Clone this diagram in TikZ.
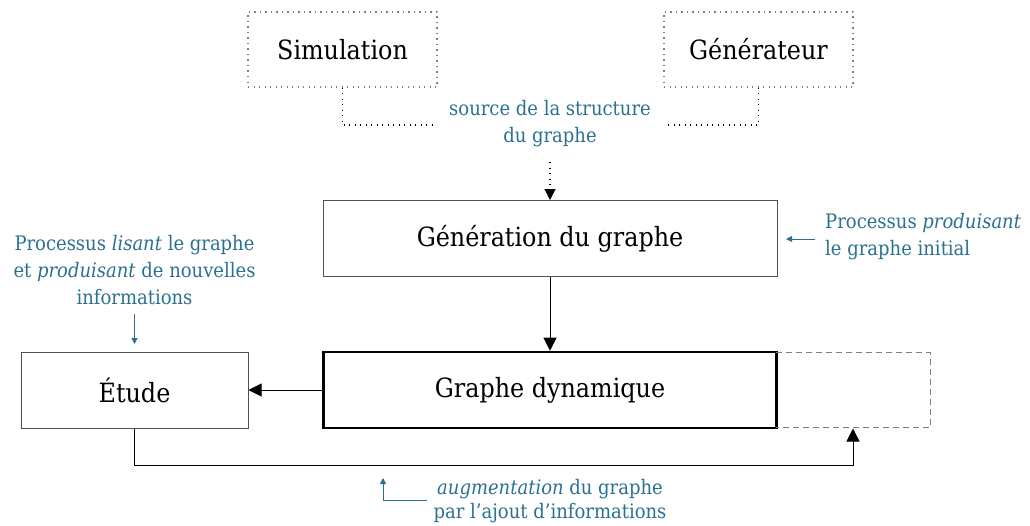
\documentclass[tikz,border=0pt]{standalone}
\usepackage{fontspec}
\setmainfont{DejaVu Serif Condensed}
\usetikzlibrary{arrows.meta}
\definecolor{lblue}{RGB}{42,112,143}
\definecolor{boxgray}{RGB}{80,80,80}
\tikzset{
  mainbox/.style={draw=boxgray, line width=1pt, minimum width=#1, minimum height=76pt, inner sep=0pt, font=\fontsize{26.5}{30}\selectfont},
  srcbox/.style={draw=gray, line width=1.1pt, dash pattern=on 1.1pt off 4.4pt, minimum width=189pt, minimum height=75pt, inner sep=0pt, font=\fontsize{26.5}{30}\selectfont},
  dotline/.style={line width=1.1pt, dash pattern=on 1.1pt off 4.4pt, draw=black},
  conn/.style={line width=1pt, -{Triangle[width=13pt,length=13pt]}},
  note/.style={text=lblue, font=\fontsize{20}{27}\selectfont, align=center, inner sep=0pt},
  notearrow/.style={draw=lblue, line width=1pt, -{Triangle[width=6pt,length=6pt]}},
}
\begin{document}
\begin{tikzpicture}[x=1pt,y=-1pt]
\useasboundingbox (0,0) rectangle (1030,525);
% source boxes
\node[srcbox] (sim) at (342.5,49.5) {Simulation};
\node[srcbox] (gen) at (758.5,49.5) {Générateur};
% label
\node[note] (src) at (550,124) {source de la structure\\du graphe};
\coordinate (srcL) at (434,125);
\coordinate (srcR) at (667,125);
\draw[dotline] (sim.south) |- (srcL);
\draw[dotline] (gen.south) |- (srcR);
% main boxes
\node[mainbox=454pt] (gg) at (550,238.5) {Génération du graphe};
\node[mainbox=453pt, line width=2.6pt, draw=black] (gd) at (550,390) {Graphe dynamique};
\node[mainbox=227pt] (et) at (134.5,390) {Étude};
\coordinate (srcA) at (550,162);
\draw[dotline, -{Triangle[width=11pt,length=11pt]}] (srcA) -- (gg.north);
\draw[conn] (gg.south) -- (gd.north);
\draw[conn] (gd.west) -- (et.east);
% dashed extension box
\coordinate (dA) at (776,352.5);
\coordinate (dB) at (930,352.5);
\coordinate (dC) at (930,427.5);
\coordinate (dD) at (776,427.5);
\draw[gray, line width=1pt, dash pattern=on 6pt off 4pt] (dA) -- (dB) -- (dC) -- (dD);
% feedback loop
\coordinate (loopEnd) at (853,428.5);
\draw[conn] (et.south) -- (134.5,465) -| (loopEnd);
% notes
\node[note] (nl) at (134.5,270) {Processus \textit{lisant} le graphe\\et \textit{produisant} de nouvelles\\informations};
\coordinate (nlA) at (134.5,314);
\coordinate (nlB) at (134.5,344);
\draw[notearrow] (nlA) -- (nlB);
\node[note, align=left, anchor=west] (nr) at (825,237) {Processus \textit{produisant}\\le graphe initial};
\coordinate (nrA) at (815,239);
\coordinate (nrB) at (786,239);
\draw[notearrow] (nrA) -- (nrB);
\node[note, font=\fontsize{20}{24}\selectfont] (nb) at (550,501) {\textit{augmentation} du graphe\\par l’ajout d’informations};
\coordinate (nbA) at (427,500.5);
\coordinate (nbB) at (383,478);
\draw[notearrow] (nbA) -| (nbB);
\end{tikzpicture}
\end{document}
